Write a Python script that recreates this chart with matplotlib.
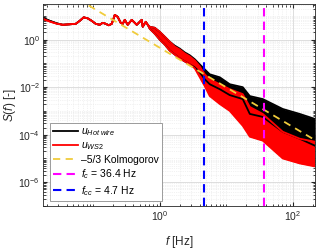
import numpy as np
import matplotlib
matplotlib.use("Agg")
import matplotlib.pyplot as plt
from matplotlib.ticker import LogLocator, NullFormatter

# ----------------------------------------------------
# Power spectra: hot wire vs WS2
# ----------------------------------------------------

plt.rcParams["font.family"] = ["Liberation Sans", "DejaVu Sans"]
plt.rcParams["mathtext.fontset"] = "custom"
plt.rcParams["mathtext.rm"] = "Liberation Sans"
plt.rcParams["mathtext.it"] = "Liberation Sans:italic"

# low-frequency part: both spectra almost a single line
f_low = [0.0174, 0.0222, 0.0282, 0.0348, 0.0443, 0.0546, 0.0627, 0.0719,
         0.0826, 0.0949, 0.109, 0.125, 0.139, 0.154, 0.171, 0.190, 0.211,
         0.233, 0.259, 0.278, 0.298, 0.330, 0.379, 0.421, 0.451, 0.500,
         0.536, 0.555, 0.616, 0.660]
hot_low = [8.25, 6.19, 4.87, 4.22, 4.43, 4.64, 6.19, 8.66, 7.87, 6.19,
           4.64, 4.22, 5.11, 4.64, 4.02, 4.64, 11.0, 9.09, 5.11, 4.64,
           6.81, 4.22, 6.81, 5.11, 4.22, 5.62, 6.81, 3.48, 5.62, 4.22]
ws2_low = [7.50, 5.80, 4.70, 4.22, 4.43, 4.64, 6.19, 8.66, 7.87, 6.19,
           4.64, 4.22, 5.11, 4.64, 4.02, 4.64, 11.0, 9.09, 5.11, 4.64,
           6.81, 4.22, 6.81, 5.11, 4.22, 5.62, 6.81, 3.48, 5.62, 4.22]

# noisy part: upper / lower envelope of the spectra
f_band = [0.707, 0.841, 1.0, 1.19, 1.41, 1.68, 2.0, 2.38, 2.83, 3.36, 4.0,
          4.75, 5.65, 7.98, 11.3, 17.7, 22.6, 35.4, 70.7, 127, 214]
hot_hi = [3.48, 3.16, 2.15, 1.33, 0.825, 0.56, 0.42, 0.29, 0.22, 0.15,
          0.0909, 0.0562, 0.0348, 0.0261, 0.0133, 0.01, 0.00422, 0.00316,
          0.00121, 0.00075, 0.000464]
hot_lo = [2.87, 1.78, 1.0, 0.619, 0.348, 0.237, 0.162, 0.121, 0.0909,
          0.068, 0.0422, 0.0215, 0.0133, 0.00825, 0.00464, 0.00316,
          0.00075, 0.000562, 0.000133, 6.81e-5, 3.48e-5]
ws2_hi = [3.48, 3.16, 2.15, 1.33, 0.825, 0.511, 0.383, 0.261, 0.196, 0.133,
          0.075, 0.0348, 0.0215, 0.0133, 0.00825, 0.00511, 0.00147,
          0.00075, 0.000133, 6.81e-5, 5.11e-5]
ws2_lo = [2.87, 1.78, 1.0, 0.619, 0.348, 0.237, 0.162, 0.121, 0.0909,
          0.0619, 0.0261, 0.011, 0.00422, 0.00196, 0.001, 0.000237,
          8.25e-5, 5.62e-5, 1e-5, 6.19e-6, 4.64e-6]

# -5/3 reference line end points
kolmo_f = [0.05, 214]
kolmo_S = [67.0, 6.0e-5]

f_c = 36.4
f_cc = 4.7

x_ticks = [1, 100]
y_ticks = [1e-6, 1e-4, 1e-2, 1]

# ----------------------------------------------------
# Plot
# ----------------------------------------------------

fig = plt.figure(figsize=(3.2, 2.5), dpi=100)
ax = fig.add_axes([0.134, 0.176, 0.850, 0.808])

f_all = np.array(f_low + f_band)

hot_up = np.array(hot_low + hot_hi)
hot_dn = np.array(hot_low + hot_lo)
ws2_up = np.array(ws2_low + ws2_hi)
ws2_dn = np.array(ws2_low + ws2_lo)

ax.fill_between(f_all, hot_dn, hot_up, color="black", lw=0)
ax.plot(f_all, hot_up, color="black", lw=1.3)
ax.plot(f_all, hot_dn, color="black", lw=1.3, label=r"$u_{Hot\ wire}$")

ax.fill_between(f_all, ws2_dn, ws2_up, color="red", lw=0)
ax.plot(f_all, ws2_up, color="red", lw=1.3)
ax.plot(f_all, ws2_dn, color="red", lw=1.3, label=r"$u_{WS2}$")

ax.plot(kolmo_f, kolmo_S, color="#F0CC3C", lw=1.3, ls=(0, (4, 3)),
        label="\u20135/3 Kolmogorov")

ax.axvline(f_c, color="#FF00FF", lw=1.5, ls=(0, (4, 2.5)),
           label=r"$f_c$ = 36.4 Hz")
ax.axvline(f_cc, color="#0000FF", lw=1.5, ls=(0, (4, 2.5)),
           label=r"$f_{cc}$ = 4.7 Hz")

ax.set_xscale("log")
ax.set_yscale("log")
ax.set_xlim(0.0175, 215)
ax.set_ylim(1e-7, 10 ** 1.5)

ax.set_xticks(x_ticks)
ax.set_yticks(y_ticks)
ax.xaxis.set_minor_locator(LogLocator(base=10, subs=np.arange(1, 10), numticks=20))
ax.yaxis.set_minor_locator(LogLocator(base=10, subs=np.arange(1, 10), numticks=20))
ax.xaxis.set_minor_formatter(NullFormatter())
ax.yaxis.set_minor_formatter(NullFormatter())

ax.grid(True, which="major", color="#D8D8D8", lw=0.6)
ax.grid(True, which="minor", color="#E6E6E6", lw=0.5, ls=":")
ax.set_axisbelow(True)

ax.tick_params(which="both", direction="in", top=True, right=True,
               colors="#262626", labelsize=7.5, pad=2)
ax.tick_params(which="major", length=3)
ax.tick_params(which="minor", length=1.8)
for s in ax.spines.values():
    s.set_color("#262626")
    s.set_linewidth(0.6)

ax.set_xlabel(r"$f$ [Hz]", fontsize=8.5, color="#262626")
ax.xaxis.set_label_coords(0.5, -0.14)
ax.set_ylabel(r"$S(f)$ [-]", fontsize=8.5, color="#262626", labelpad=0)

leg = ax.legend(loc="lower left", bbox_to_anchor=(0.025, 0.025),
                borderaxespad=0, fontsize=7.5, fancybox=False,
                framealpha=1, edgecolor="#8C8C8C", handlelength=2.4,
                handletextpad=0.3, borderpad=0.3, labelspacing=0.25)
leg.get_frame().set_linewidth(0.6)

fig.savefig("out.png", dpi=100)
